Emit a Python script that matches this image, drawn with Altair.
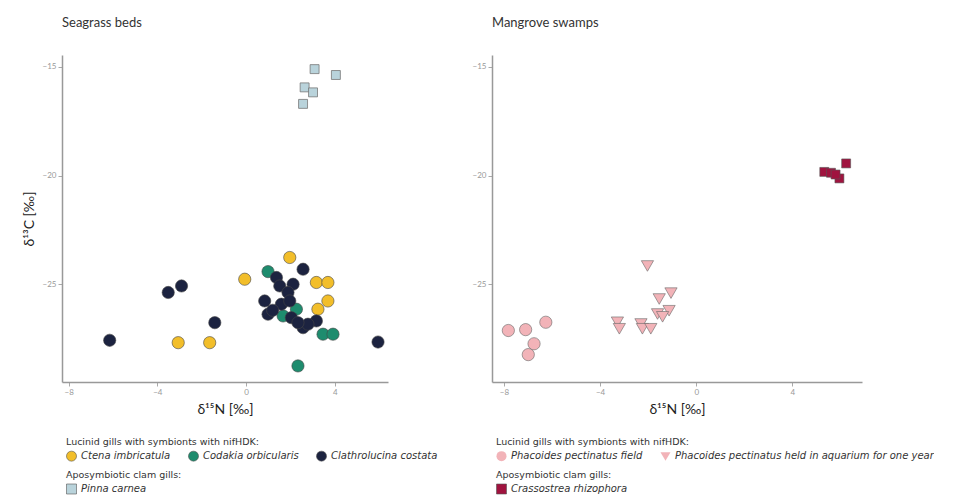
import altair as alt
import pandas as pd

# ---------------- data ----------------
ctena_x = [1.97, -0.06, 3.17, 3.69, 3.69, 3.24, -3.06, -1.64]
ctena_y = [-23.77, -24.77, -24.92, -24.92, -25.77, -26.15, -27.69, -27.69]

codakia_x = [0.99, 2.27, 1.67, 3.47, 3.92, 2.34]
codakia_y = [-24.42, -26.15, -26.46, -27.30, -27.30, -28.76]

clath_x = [-6.15, -3.51, -2.91, -1.41, 5.95, 2.57, 1.37, 1.52, 2.12, 1.89,
           0.84, 1.59, 1.97, 0.99, 2.04, 2.57, 3.17, 2.79, 2.34, 1.20]
clath_y = [-27.58, -25.38, -25.08, -26.77, -27.66, -24.31, -24.69, -25.08, -25.00, -25.38,
           -25.77, -25.92, -25.77, -26.38, -26.54, -27.00, -26.69, -26.84, -26.77, -26.20]

pinna_x = [3.09, 4.05, 2.64, 3.02, 2.57]
pinna_y = [-15.10, -15.37, -15.94, -16.17, -16.70]

field_x = [-7.82, -7.10, -6.26, -6.75, -6.99]
field_y = [-27.13, -27.09, -26.75, -27.74, -28.24]

aqua_x = [-2.03, -1.05, -1.54, -1.13, -1.61, -3.28, -3.20, -2.30, -2.24, -1.89, -1.40]
aqua_y = [-24.16, -25.41, -25.68, -26.22, -26.37, -26.75, -27.05, -26.83, -27.05, -27.05, -26.50]

crass_x = [6.24, 5.33, 5.61, 5.96, 5.80]
crass_y = [-19.44, -19.83, -19.87, -20.13, -19.95]

lucinid_left = ["Ctena imbricatula", "Codakia orbicularis", "Clathrolucina costata"]
lucinid_left_colors = ["#F2BE2A", "#1E8C6E", "#1C2340"]
apo_left = ["Pinna carnea"]
apo_left_colors = ["#B9D3DB"]

lucinid_right = ["Phacoides pectinatus field",
                 "Phacoides pectinatus held in aquarium for one year"]
pink = "#F2B3B8"
apo_right = ["Crassostrea rhizophora"]
apo_right_colors = ["#A0133F"]

x_ticks = [-8, -4, 0, 4]
y_ticks = [-15, -20, -25]

FONT = "Lato"
LFONT = "DejaVu Sans"


def frame(xs, ys, name):
    return pd.DataFrame({"x": xs, "y": ys, "species": name})


left_luc = pd.concat([frame(ctena_x, ctena_y, lucinid_left[0]),
                      frame(codakia_x, codakia_y, lucinid_left[1]),
                      frame(clath_x, clath_y, lucinid_left[2])])
left_apo = frame(pinna_x, pinna_y, apo_left[0])
right_luc = pd.concat([frame(field_x, field_y, lucinid_right[0]),
                       frame(aqua_x, aqua_y, lucinid_right[1])])
right_apo = frame(crass_x, crass_y, apo_right[0])

xtitle = "δ¹⁵N [‰]"
ytitle = "δ¹³C [‰]"


def legend(title, y):
    return alt.Legend(orient="none", legendX=4, legendY=y, direction="horizontal",
                      title=title, titleOrient="top", titleAnchor="start",
                      titleFontSize=9.5, titleFontWeight="normal", titleColor="#333",
                      titleFont=LFONT, titleLimit=600, labelFont=LFONT, labelFontSize=10,
                      labelFontStyle="italic", labelColor="#333", labelLimit=600,
                      symbolSize=100, columnPadding=16, titlePadding=4,
                      symbolStrokeColor="#555", symbolStrokeWidth=0.6)


def xenc(domain):
    return alt.X("x:Q", scale=alt.Scale(domain=domain, nice=False, zero=False),
                 axis=alt.Axis(values=x_ticks, title=xtitle))


def yenc(show_title):
    ax = alt.Axis(values=y_ticks, title=ytitle) if show_title else alt.Axis(values=y_ticks, title=None)
    return alt.Y("y:Q", scale=alt.Scale(domain=[-29.5, -14.45], nice=False, zero=False), axis=ax)


W_L, W_R, H = 326, 370, 327

left_pts = alt.Chart(left_luc).mark_circle(size=150, opacity=1, stroke="#444", strokeWidth=0.6).encode(
    x=xenc([-8.3, 6.4]), y=yenc(True),
    fill=alt.Fill("species:N", scale=alt.Scale(domain=lucinid_left, range=lucinid_left_colors),
                  legend=legend("Lucinid gills with symbionts with nifHDK:", 382)))
left_sq = alt.Chart(left_apo).mark_square(size=80, opacity=1, stroke="#777", strokeWidth=0.8).encode(
    x=xenc([-8.3, 6.4]), y=yenc(True),
    fill=alt.Fill("species:N", scale=alt.Scale(domain=apo_left, range=apo_left_colors),
                  legend=legend("Aposymbiotic clam gills:", 415)))
left = alt.layer(left_pts, left_sq).resolve_scale(fill="independent").resolve_legend(
    fill="independent").properties(
    width=W_L, height=H,
    title=alt.TitleParams("Seagrass beds", anchor="start", frame="group", offset=25,
                          fontSize=13, fontWeight="normal", color="#333", font=FONT))

right_pts = alt.Chart(right_luc).mark_point(size=150, filled=True, opacity=1, fill=pink,
                                            stroke="#666", strokeWidth=0.6).encode(
    x=xenc([-8.5, 6.9]), y=yenc(False),
    shape=alt.Shape("species:N", scale=alt.Scale(domain=lucinid_right, range=["circle", "triangle-down"]),
                    legend=legend("Lucinid gills with symbionts with nifHDK:", 382)))
right_sq = alt.Chart(right_apo).mark_square(size=80, opacity=1, stroke="#555", strokeWidth=0.6).encode(
    x=xenc([-8.5, 6.9]), y=yenc(False),
    fill=alt.Fill("species:N", scale=alt.Scale(domain=apo_right, range=apo_right_colors),
                  legend=legend("Aposymbiotic clam gills:", 415)))
right = alt.layer(right_pts, right_sq).properties(
    width=W_R, height=H,
    title=alt.TitleParams("Mangrove swamps", anchor="start", frame="group", offset=25,
                          fontSize=13, fontWeight="normal", color="#333", font=FONT))

chart = alt.hconcat(left, right, spacing=104, bounds="flush").resolve_scale(
    fill="independent", shape="independent"
).resolve_legend(fill="independent", shape="independent").properties(
    padding={"left": 14, "top": 9, "right": 0, "bottom": 0}
).configure_view(stroke=None).configure_axis(
    grid=False, labelFont=FONT, labelFontSize=8, labelColor="#999",
    tickColor="#aaa", tickSize=4, domainColor="#999", domainWidth=1.5,
    titleFont=FONT, titleFontSize=14, titleFontWeight="normal", titleColor="#222",
    labelPadding=2, titlePadding=6
).configure_legend(titleFontWeight="normal")

chart.save("out.html", embed_options={"renderer": "svg", "actions": False})
